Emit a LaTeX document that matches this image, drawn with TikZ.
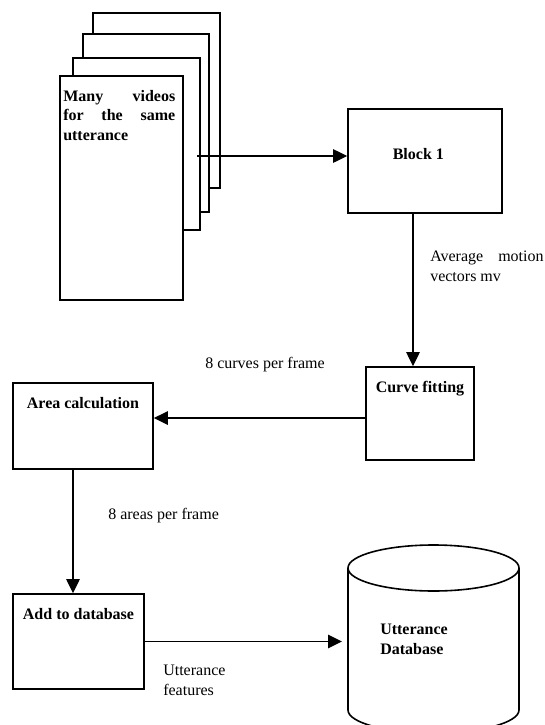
\documentclass[tikz,border=0pt]{standalone}
\usepackage{fontspec}
\setmainfont{Liberation Serif}
\usetikzlibrary{arrows.meta}

\begin{document}
\begin{tikzpicture}[
    x=0.75pt, y=-0.75pt,
    page/.style = {rectangle, draw=black, fill=white, line width=1.2pt, inner sep=0pt},
    box/.style = {rectangle, draw=black, line width=1.2pt, inner sep=0pt},
    boxtext/.style = {anchor=base, font=\fontsize{12}{14.5}\selectfont\bfseries, yshift=-#1},
    note/.style = {anchor=north west, inner sep=0pt, font=\fontsize{12}{14.5}\selectfont},
    boldnote/.style = {note, font=\fontsize{12}{14.5}\selectfont\bfseries},
    flow/.style = {draw=black, line width=1.2pt, -{Triangle[length=10.5pt, width=10pt]}},
    dbline/.style = {draw=black, line width=1.2pt}
]

\useasboundingbox (0,0) rectangle (545,725);
\fill[white] (0,0) rectangle (545,725);

% Stack of videos
\node (page4) [page, minimum width=95.25pt, minimum height=131.25pt] at (156.5, 100.5) {};
\node (page3) [page, minimum width=94.5pt, minimum height=133.5pt] at (146, 123) {};
\node (page2) [page, minimum width=95.25pt, minimum height=129pt] at (136.5, 144) {};
\node (page1) [page, minimum width=92.25pt, minimum height=168pt] at (121.5, 188) {};
\node (vidtext) [boldnote, text width=84pt, align=justify] at (63, 90) {Many videos\linebreak for the same\linebreak utterance};
\coordinate (vidout) at (197, 156);

% Blocks
\node (block1) [box, minimum width=115.5pt, minimum height=78pt, label={[boxtext=38.25pt, xshift=-5pt]north:Block 1}] at (425, 161) {};
\node (curve) [box, minimum width=81pt, minimum height=69.75pt, label={[boxtext=19.5pt]north:Curve fitting}] at (420, 413.5) {};
\node (area) [box, minimum width=105pt, minimum height=64.5pt, label={[boxtext=19.5pt]north:Area calculation}] at (83, 426) {};
\node (add) [box, minimum width=98.25pt, minimum height=71.25pt, label={[boxtext=19.5pt]north:Add to database}] at (78.5, 641.5) {};

% Database
\draw [dbline] (433.5, 568) ellipse [x radius=85.5, y radius=23];
\draw [dbline] (348, 568) -- (348, 710) arc [start angle=180, end angle=0, x radius=85.5, y radius=23] -- (519, 568);
\coordinate (dbleft) at (348, 641);
\node (dbtext) [boldnote, align=left] at (380, 624) {Utterance\\Database};

% Flows
\draw [flow] (vidout) -- (vidout -| block1.west);
\draw [flow] ([xshift=-9pt]block1.south) -- ([xshift=-9pt]block1.south |- curve.north);
\draw [flow] ([yshift=-3.4pt]curve.west) -- ([yshift=-3.4pt]curve.west -| area.east);
\draw [flow] ([xshift=-7.5pt]area.south) -- ([xshift=-7.5pt]area.south |- add.north);
\draw [flow, shorten >=4.5pt] (add.east) -- (add.east -| dbleft);

% Labels
\node (mvtext) [note, text width=85pt, align=justify] at (430, 251) {Average motion\linebreak vectors mv};
\node (curvestext) [note, anchor=base west] at (205, 368) {8 curves per frame};
\node (areastext) [note, anchor=base west] at (108, 519) {8 areas per frame};
\node (feattext) [note, align=left] at (163, 665) {Utterance\\features};

\end{tikzpicture}
\end{document}
